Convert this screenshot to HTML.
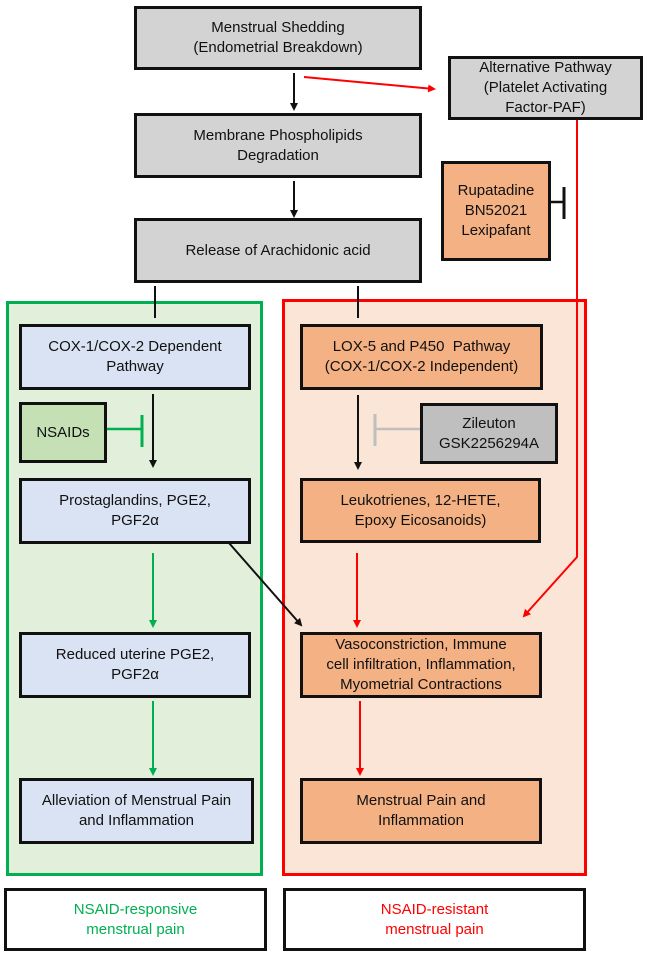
<!DOCTYPE html>
<html><head><meta charset="utf-8"><style>
body{margin:0;width:647px;height:956px;background:#fff;position:relative;overflow:hidden;font-family:"Liberation Sans",Arial,sans-serif;}
.b{position:absolute;box-sizing:border-box;border:3px solid #111;display:flex;align-items:center;justify-content:center;text-align:center;font-size:15px;line-height:20px;color:#111;}
.g{background:#d3d3d3}.o{background:#f4b183}.bl{background:#dae3f3}
.p{position:absolute;box-sizing:border-box;border:3px solid;}
svg{position:absolute;left:0;top:0}
</style></head><body>
<div class="p" style="left:6px;top:301px;width:257px;height:575px;border-color:#00b050;background:#e2efda"></div>
<div class="p" style="left:282px;top:299px;width:305px;height:577px;border-color:#ff0000;background:#fbe5d6"></div>

<div class="b g" style="left:134px;top:6px;width:288px;height:64px">Menstrual Shedding<br>(Endometrial Breakdown)</div>
<div class="b g" style="left:448px;top:56px;width:195px;height:64px">Alternative Pathway<br>(Platelet Activating<br>Factor-PAF)</div>
<div class="b g" style="left:134px;top:113px;width:288px;height:65px">Membrane Phospholipids<br>Degradation</div>
<div class="b o" style="left:441px;top:161px;width:110px;height:100px">Rupatadine<br>BN52021<br>Lexipafant</div>
<div class="b g" style="left:134px;top:218px;width:288px;height:65px">Release of Arachidonic acid</div>

<div class="b bl" style="left:19px;top:324px;width:232px;height:66px">COX-1/COX-2 Dependent<br>Pathway</div>
<div class="b o" style="left:300px;top:324px;width:243px;height:66px">LOX-5 and P450&nbsp; Pathway<br>(COX-1/COX-2 Independent)</div>
<div class="b" style="left:19px;top:402px;width:88px;height:61px;background:#c5e0b4">NSAIDs</div>
<div class="b" style="left:420px;top:403px;width:138px;height:61px;background:#bfbfbf">Zileuton<br>GSK2256294A</div>
<div class="b bl" style="left:19px;top:478px;width:232px;height:66px">Prostaglandins, PGE2,<br>PGF2α</div>
<div class="b o" style="left:300px;top:478px;width:241px;height:65px">Leukotrienes, 12-HETE,<br>Epoxy Eicosanoids)</div>
<div class="b bl" style="left:19px;top:632px;width:232px;height:66px">Reduced uterine PGE2,<br>PGF2α</div>
<div class="b o" style="left:300px;top:632px;width:242px;height:66px">Vasoconstriction, Immune<br>cell infiltration, Inflammation,<br>Myometrial Contractions</div>
<div class="b bl" style="left:19px;top:778px;width:235px;height:66px">Alleviation of Menstrual Pain<br>and Inflammation</div>
<div class="b o" style="left:300px;top:778px;width:242px;height:66px">Menstrual Pain and<br>Inflammation</div>

<div class="b" style="left:4px;top:888px;width:263px;height:63px;color:#00b050;background:#fff">NSAID-responsive<br>menstrual pain</div>
<div class="b" style="left:283px;top:888px;width:303px;height:63px;color:#ff0000;background:#fff">NSAID-resistant<br>menstrual pain</div>

<svg width="647" height="956" viewBox="0 0 647 956">
<defs>
<marker id="ak" markerWidth="8" markerHeight="8" refX="6" refY="4" orient="auto" markerUnits="userSpaceOnUse"><path d="M0,0 L8,4 L0,8 z" fill="#111"/></marker>
<marker id="ar" markerWidth="8" markerHeight="8" refX="6" refY="4" orient="auto" markerUnits="userSpaceOnUse"><path d="M0,0 L8,4 L0,8 z" fill="#ff0000"/></marker>
<marker id="ag" markerWidth="8" markerHeight="8" refX="6" refY="4" orient="auto" markerUnits="userSpaceOnUse"><path d="M0,0 L8,4 L0,8 z" fill="#00b050"/></marker>
</defs>
<g stroke-width="2" fill="none">
<line x1="294" y1="73" x2="294" y2="109" stroke="#111" marker-end="url(#ak)"/>
<line x1="294" y1="181" x2="294" y2="216" stroke="#111" marker-end="url(#ak)"/>
<line x1="304" y1="77" x2="434" y2="89" stroke="#ff0000" marker-end="url(#ar)"/>
<line x1="155" y1="286" x2="155" y2="318" stroke="#111"/>
<line x1="358" y1="286" x2="358" y2="318" stroke="#111"/>
<line x1="551" y1="202" x2="564" y2="202" stroke="#111" stroke-width="2.5"/>
<line x1="564" y1="187" x2="564" y2="219" stroke="#111" stroke-width="3"/>
<polyline points="577,120 577,557 524,616" stroke="#ff0000" marker-end="url(#ar)"/>
<line x1="107" y1="429" x2="142" y2="429" stroke="#00b050" stroke-width="2.5"/>
<line x1="142" y1="415" x2="142" y2="447" stroke="#00b050" stroke-width="3"/>
<line x1="420" y1="429" x2="375" y2="429" stroke="#bfbfbf" stroke-width="2.5"/>
<line x1="375" y1="414" x2="375" y2="446" stroke="#bfbfbf" stroke-width="3"/>
<line x1="153" y1="394" x2="153" y2="466" stroke="#111" marker-end="url(#ak)"/>
<line x1="358" y1="395" x2="358" y2="468" stroke="#111" marker-end="url(#ak)"/>
<line x1="153" y1="553" x2="153" y2="626" stroke="#00b050" marker-end="url(#ag)"/>
<line x1="357" y1="553" x2="357" y2="626" stroke="#ff0000" marker-end="url(#ar)"/>
<line x1="229" y1="543" x2="301" y2="625" stroke="#111" marker-end="url(#ak)"/>
<line x1="153" y1="701" x2="153" y2="774" stroke="#00b050" marker-end="url(#ag)"/>
<line x1="360" y1="701" x2="360" y2="774" stroke="#ff0000" marker-end="url(#ar)"/>
</g>
</svg>
</body></html>
